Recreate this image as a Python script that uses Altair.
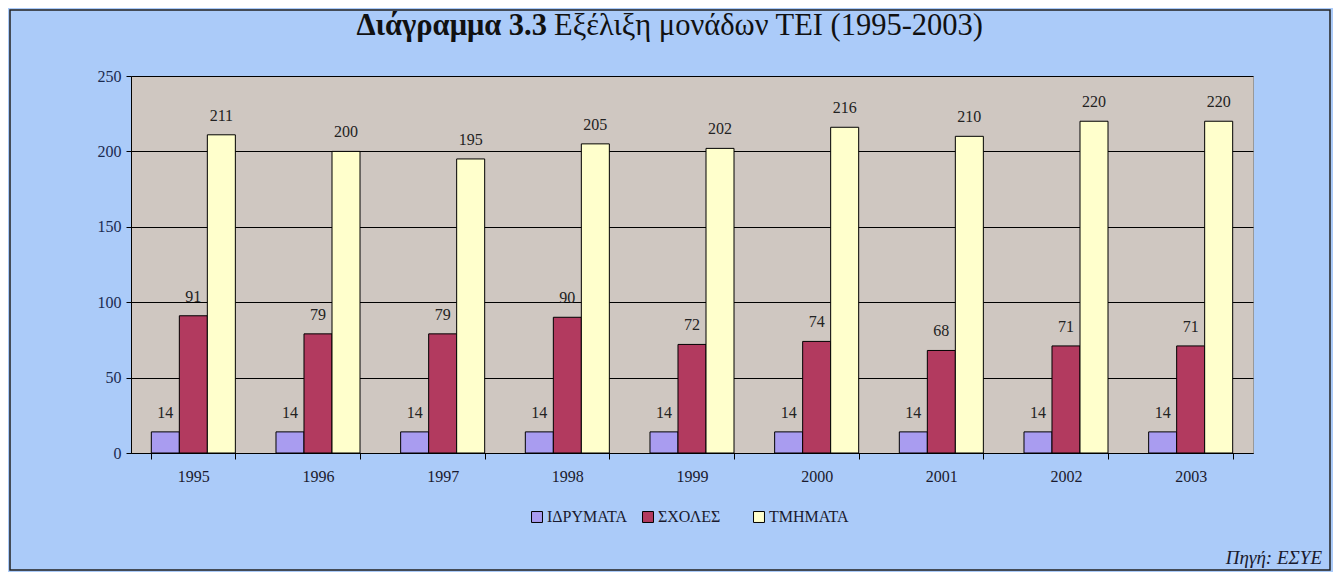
import altair as alt
import pandas as pd

years = ["1995", "1996", "1997", "1998", "1999", "2000", "2001", "2002", "2003"]
series = ["ΙΔΡΥΜΑΤΑ", "ΣΧΟΛΕΣ", "ΤΜΗΜΑΤΑ"]
idrymata = [14, 14, 14, 14, 14, 14, 14, 14, 14]
scholes = [91, 79, 79, 90, 72, 74, 68, 71, 71]
tmimata = [211, 200, 195, 205, 202, 216, 210, 220, 220]
colors = ["#a99cf0", "#b23a5f", "#ffffcc"]

rows = []
for i, y in enumerate(years):
    for s, vals in zip(series, [idrymata, scholes, tmimata]):
        rows.append({"year": y, "series": s, "value": vals[i]})
df = pd.DataFrame(rows)

W, H = 1122, 377
FONT = "Liberation Serif"

xenc = alt.X("year:N", title=None, sort=years,
             scale=alt.Scale(paddingInner=0.326, paddingOuter=0.163),
             axis=alt.Axis(labelAngle=0, tickBand="extent", labelFont=FONT,
                           labelFontSize=16, labelColor="#1a1a2e", labelPadding=9,
                           tickSize=6, tickColor="black", domainColor="black",
                           grid=False))
xoff = alt.XOffset("series:N", sort=series)
yenc = alt.Y("value:Q", title=None,
             scale=alt.Scale(domain=[0, 250], nice=False),
             axis=alt.Axis(values=[0, 50, 100, 150, 200, 250], labelFont=FONT,
                           labelFontSize=16, labelColor="#1a2a50", labelPadding=5,
                           tickSize=5, tickColor="black", domainColor="black",
                           gridColor="black", gridWidth=1.2))

bars = alt.Chart(df).mark_bar(stroke="black", strokeWidth=1).encode(
    x=xenc, xOffset=xoff, y=yenc,
    color=alt.Color("series:N", sort=series,
                    scale=alt.Scale(domain=series, range=colors),
                    legend=alt.Legend(title=None, orient="none", legendX=398, legendY=433,
                                      direction="horizontal",
                                      columns=3, gridAlign="all", columnPadding=12,
                                      symbolType="square", symbolSize=120,
                                      symbolStrokeColor="black", symbolStrokeWidth=1,
                                      labelFont=FONT, labelFontSize=16,
                                      labelColor="#1a1a2e", labelOffset=2)),
)

labels = alt.Chart(df).mark_text(baseline="bottom", dy=-11, font=FONT, fontSize=16,
                                 color="#222222").encode(
    x=alt.X("year:N", sort=years), xOffset=xoff, y="value:Q", text="value:Q"
)

title_df = pd.DataFrame({"t": ["x"]})
title_bold = alt.Chart(title_df).mark_text(
    text="Διάγραμμα 3.3", font=FONT, fontSize=30.5, fontWeight="bold",
    align="right", baseline="alphabetic", color="#111111"
).encode(x=alt.value(416), y=alt.value(-41))
title_rest = alt.Chart(title_df).mark_text(
    text="Εξέλιξη μονάδων ΤΕΙ (1995-2003)", font=FONT, fontSize=30.5,
    align="left", baseline="alphabetic", color="#111111"
).encode(x=alt.value(423), y=alt.value(-41))
source = alt.Chart(title_df).mark_text(
    text="Πηγή: ΕΣΥΕ", font=FONT, fontSize=19, fontStyle="italic",
    align="right", baseline="alphabetic", color="#1a1a2e"
).encode(x=alt.value(1191), y=alt.value(488))
frame = alt.Chart(title_df).mark_rect(fill=None, stroke="#222222", strokeWidth=1.5).encode(
    x=alt.value(-121), x2=alt.value(1199), y=alt.value(-66), y2=alt.value(494)
)

chart = alt.layer(bars, labels, title_bold, title_rest, source, frame).properties(
    width=W, height=H,
    autosize=alt.AutoSizeParams(type="none"),
    padding={"left": 123, "top": 68, "right": 80, "bottom": 119},
    background="#abcbf9",
).configure_view(fill="#cfc7c1", stroke="#999999", strokeWidth=1)

chart.save("out.html", embed_options={"renderer": "svg", "actions": False})
